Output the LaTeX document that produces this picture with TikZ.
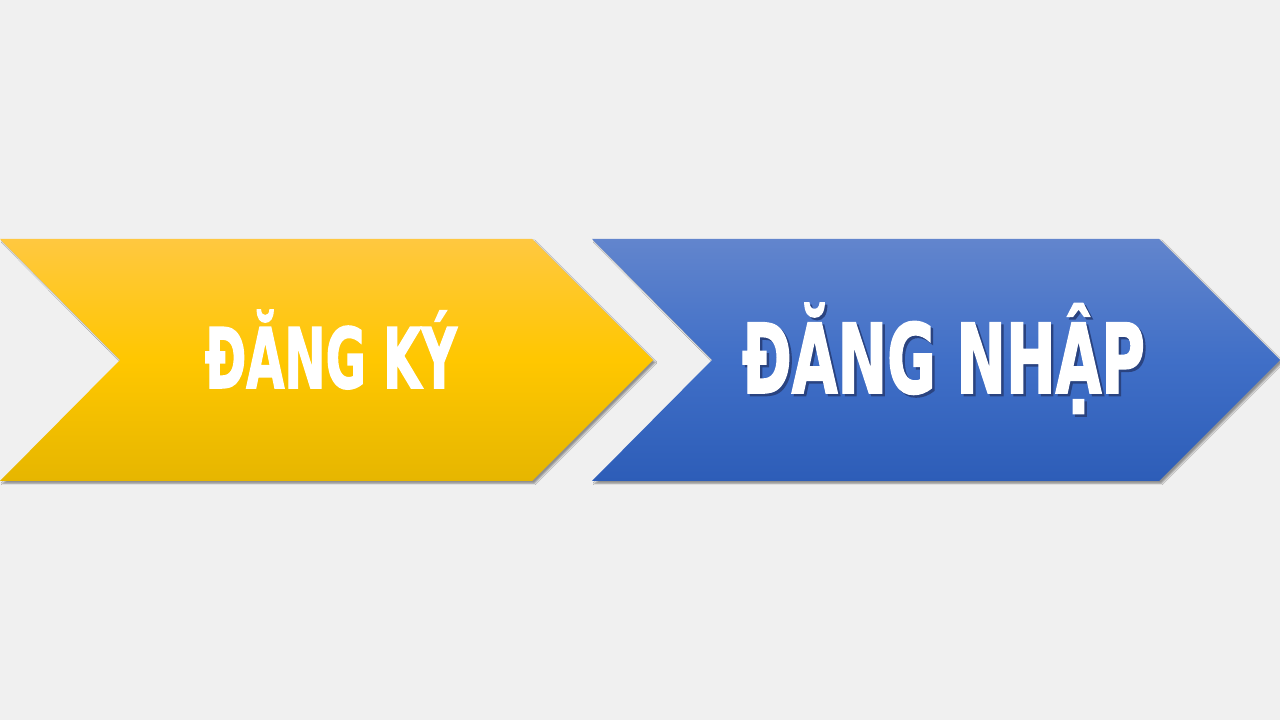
\documentclass[tikz,border=0pt]{standalone}
\usepackage{fontspec}
\usepackage{graphicx}
\usetikzlibrary{shadows.blur}
\newfontfamily\condfont{DejaVu Sans Condensed}[BoldFeatures={FakeBold=2}]
\definecolor{bg}{HTML}{F0F0F0}
\definecolor{yelA}{HTML}{FFC840}
\definecolor{yelB}{HTML}{FFC700}
\definecolor{yelC}{HTML}{E6B600}
\definecolor{bluA}{HTML}{6285CD}
\definecolor{bluB}{HTML}{406FC7}
\definecolor{bluC}{HTML}{2D5DB8}
\definecolor{shd}{HTML}{2A4380}
\newcommand{\shtext}[1]{\rlap{\kern2.5pt\raisebox{-2.5pt}{\textcolor{shd}{#1}}}#1}
\tikzset{
    chev/.style={blur shadow={shadow xshift=2.5pt,shadow yshift=-2.5pt,shadow blur radius=1.5pt,shadow opacity=40}},
    yel/.style={chev,top color=yelA,bottom color=yelC,middle color=yelB},
    blu/.style={chev,top color=bluA,bottom color=bluC,middle color=bluB},
    lbl/.style={inner sep=0pt,anchor=base,text=white,font=\condfont\bfseries}
}
\begin{document}
\begin{tikzpicture}[x=1pt,y=1pt]
    \useasboundingbox (0,0) rectangle (1280,720);
    \fill[bg] (0,0) rectangle (1280,720);
    \path[yel] (0,481) -- (532,481) -- (653,360) -- (532,239) -- (0,239) -- (120,360) -- cycle;
    \path[blu] (592,481) -- (1159,481) -- (1280,360) -- (1159,239) -- (592,239) -- (712,360) -- cycle;
    \node[lbl] (1) at (331,332) {\resizebox{252pt}{78pt}{ĐĂNG KÝ}};
    \node[lbl] (2) at (943.5,327) {\shtext{\resizebox{403pt}{90pt}{ĐĂNG NHẬP}}};
\end{tikzpicture}
\end{document}
